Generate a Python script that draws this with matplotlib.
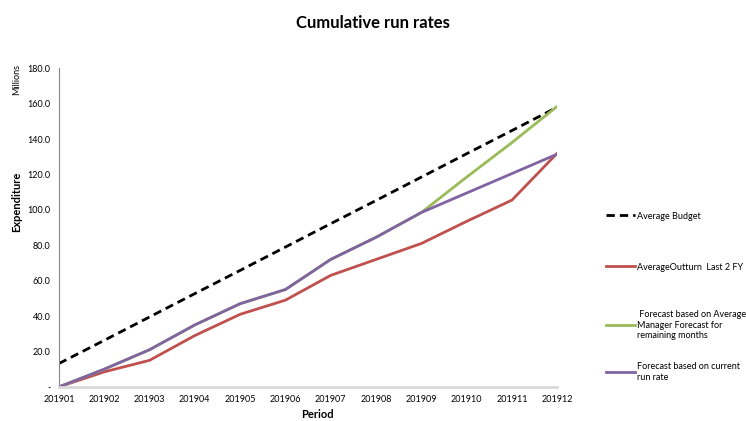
import matplotlib.pyplot as plt

plt.rcParams["font.family"] = ["Lato", "DejaVu Sans"]

periods = ["201901", "201902", "201903", "201904", "201905", "201906",
           "201907", "201908", "201909", "201910", "201911", "201912"]

budget = [13.2, 26.3, 39.5, 52.7, 65.8, 79.0, 92.2, 105.3, 118.5, 131.7, 144.8, 158.0]
outturn = [0, 8.5, 15.0, 29.0, 41.0, 49.0, 63.0, 72.0, 81.0, 93.5, 105.5, 132.0]
manager_fc = [0, 10.0, 21.0, 35.0, 47.0, 55.0, 72.0, 84.5, 98.5, 118.5, 138.0, 158.5]
run_rate = [0, 10.0, 21.0, 35.0, 47.0, 55.0, 72.0, 84.5, 98.5, 109.5, 120.5, 131.5]

labels = ["Average Budget",
          "AverageOutturn  Last 2 FY",
          " Forecast based on Average\nManager Forecast for\nremaining months",
          "Forecast based on current\nrun rate"]

fig = plt.figure(figsize=(7.46, 4.21), dpi=100)
ax = fig.add_axes([0.079, 0.081, 0.668, 0.757])

x = range(len(periods))
l1, = ax.plot(x, budget, color="black", lw=2.0, linestyle=(0, (3, 1.8)))
l2, = ax.plot(x, outturn, color="#c0504d", lw=2.0)
l3, = ax.plot(x, manager_fc, color="#9bbb59", lw=2.0)
l4, = ax.plot(x, run_rate, color="#8064a2", lw=2.0)

ax.set_xlim(0, 11)
ax.set_ylim(0, 180)
ax.set_xticks(list(x))
ax.set_xticklabels(periods, fontsize=6.5)
ax.set_yticks(range(0, 181, 20))
ax.set_yticklabels(["-"] + [f"{v:.1f}" for v in range(20, 181, 20)], fontsize=6.5)
ax.tick_params(length=0, pad=6)
ax.tick_params(axis="y", pad=6)

for s in ["top", "right"]:
    ax.spines[s].set_visible(False)
ax.spines["left"].set_color("#868686")
ax.spines["left"].set_linewidth(0.8)
ax.spines["bottom"].set_color("#d9d9d9")
ax.spines["bottom"].set_linewidth(2)

fig.text(0.5, 0.945, "Cumulative run rates", ha="center", va="center",
         fontsize=12, fontweight="bold")
fig.text(0.022, 0.52, "Expenditure", rotation=90, ha="center", va="center",
         fontsize=8, fontweight="bold")
fig.text(0.022, 0.81, "Millions", rotation=90, ha="center", va="center", fontsize=6.5)
fig.text(0.425, 0.015, "Period", ha="center", va="center", fontsize=8, fontweight="bold")

# one legend per series so each entry sits at its own height
positions = [216, 267, 325, 372]
for h, lab, py in zip([l1, l2, l3, l4], labels, positions):
    fig.legend([h], [lab], loc="center left", bbox_to_anchor=(0.813, 1 - py / 421),
               frameon=False, fontsize=6.5, handlelength=3.2, handletextpad=0.2,
               borderpad=0, borderaxespad=0)

fig.savefig("out.png", dpi=100)
